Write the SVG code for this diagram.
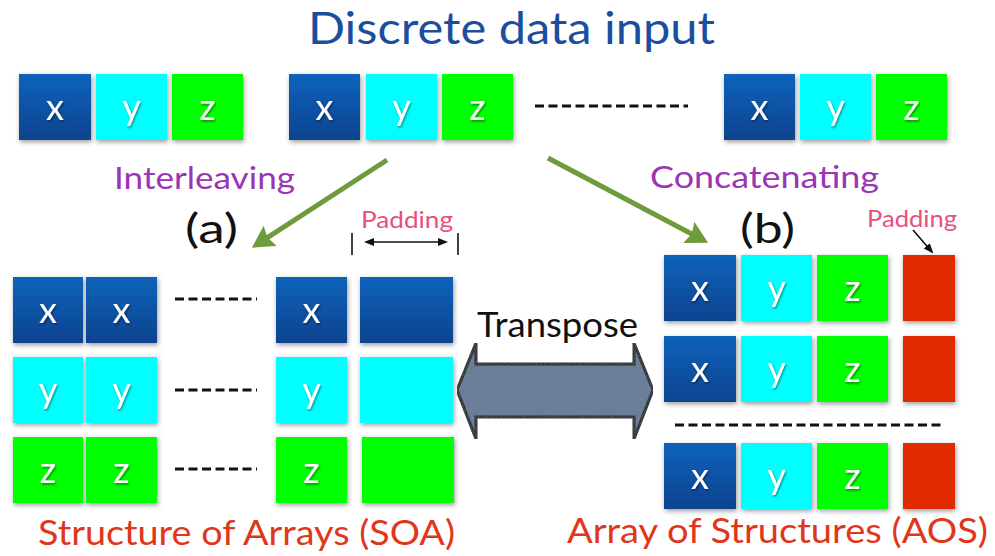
<svg xmlns="http://www.w3.org/2000/svg" width="995" height="556" viewBox="0 0 995 556">
  <defs>
    <linearGradient id="blueFill" x1="0" y1="0" x2="0" y2="1">
      <stop offset="0" stop-color="#0a63bb"/>
      <stop offset="1" stop-color="#0d438f"/>
    </linearGradient>
    <filter id="boxShadow" x="-20%" y="-20%" width="140%" height="140%">
      <feDropShadow dx="1" dy="2" stdDeviation="2.5" flood-color="#000" flood-opacity="0.4"/>
    </filter>
    <filter id="letterShadow" x="-30%" y="-30%" width="160%" height="160%">
      <feDropShadow dx="1" dy="1.5" stdDeviation="0.8" flood-color="#000" flood-opacity="0.45"/>
    </filter>
    <filter id="grain" x="0" y="0" width="100%" height="100%">
      <feTurbulence type="fractalNoise" baseFrequency="0.9" numOctaves="2" seed="3" result="noise"/>
      <feColorMatrix in="noise" type="matrix" values="0 0 0 0 0.5  0 0 0 0 0.55  0 0 0 0 0.62  0 0 0 0.18 0" result="tint"/>
      <feComposite in="tint" in2="SourceGraphic" operator="in" result="tex"/>
      <feMerge><feMergeNode in="SourceGraphic"/><feMergeNode in="tex"/></feMerge>
    </filter>
    <marker id="greenHead" markerUnits="userSpaceOnUse" markerWidth="24" markerHeight="24" viewBox="0 0 22 22" refX="6" refY="11" orient="auto">
      <path d="M0,0 L20,11 L0,22 L3,11 z" fill="#6e9b3b"/>
    </marker>
    <marker id="blackHead" markerUnits="userSpaceOnUse" markerWidth="10" markerHeight="10" viewBox="0 0 10 10" refX="8" refY="5" orient="auto-start-reverse">
      <path d="M0,1 L10,5 L0,9 z" fill="#111"/>
    </marker>
  </defs>
  <style>
    .blue { fill: url(#blueFill); filter: url(#boxShadow); }
    .cyan { fill: #00ffff; filter: url(#boxShadow); }
    .green { fill: #00ff00; filter: url(#boxShadow); }
    .red { fill: #e02a00; filter: url(#boxShadow); }
    .ltr { font-family: Lato, "Open Sans", sans-serif; font-size: 36px; fill: #ffffff; text-anchor: middle; filter: url(#letterShadow); }
    .title { font-family: Lato, "Open Sans", sans-serif; font-size: 44px; fill: #1c4ea0; }
    .op { font-family: Lato, "Open Sans", sans-serif; font-size: 30px; fill: #9a35b5; }
    .tag { font-family: Lato, "Open Sans", sans-serif; font-size: 40px; fill: #111; }
    .pad { font-family: Lato, "Open Sans", sans-serif; font-size: 24px; fill: #e84f7e; }
    .caption { font-family: Lato, "Open Sans", sans-serif; font-size: 35px; fill: #e0361a; }
    .xpose { font-family: Lato, "Open Sans", sans-serif; font-size: 35px; fill: #111; }
    .dots { stroke: #111; stroke-width: 3; stroke-dasharray: 9 4.5; fill: none; }
    .flow { stroke: #6e9b3b; stroke-width: 5; fill: none; marker-end: url(#greenHead); }
    .span { stroke: #111; stroke-width: 1.6; fill: none; }
  </style>

  <rect width="995" height="556" fill="#ffffff"/>

  <text class="title" x="308" y="44" textLength="407" lengthAdjust="spacingAndGlyphs">Discrete data input</text>

  <!-- input records: x y z triples -->
  <g id="input-1">
    <rect class="blue" x="19" y="74" width="72" height="66"/>
    <rect class="cyan" x="96" y="74" width="71" height="66"/>
    <rect class="green" x="172" y="74" width="71" height="66"/>
    <text class="ltr" x="55" y="120">x</text>
    <text class="ltr" x="131.5" y="120">y</text>
    <text class="ltr" x="207.5" y="120">z</text>
  </g>
  <g id="input-2">
    <rect class="blue" x="289" y="74" width="71" height="66"/>
    <rect class="cyan" x="366" y="74" width="71" height="66"/>
    <rect class="green" x="442" y="74" width="71" height="66"/>
    <text class="ltr" x="324.5" y="120">x</text>
    <text class="ltr" x="401.5" y="120">y</text>
    <text class="ltr" x="477.5" y="120">z</text>
  </g>
  <g id="input-n">
    <rect class="blue" x="724" y="74" width="71" height="66"/>
    <rect class="cyan" x="800" y="74" width="71" height="66"/>
    <rect class="green" x="876" y="74" width="71" height="66"/>
    <text class="ltr" x="759.5" y="120">x</text>
    <text class="ltr" x="835.5" y="120">y</text>
    <text class="ltr" x="911.5" y="120">z</text>
  </g>

  <!-- ellipsis rows -->
  <g id="ellipses">
    <line class="dots" x1="535" y1="106" x2="688" y2="106"/>
    <line class="dots" x1="175" y1="299" x2="257" y2="299"/>
    <line class="dots" x1="175" y1="390" x2="257" y2="390"/>
    <line class="dots" x1="175" y1="469" x2="257" y2="469"/>
    <line class="dots" x1="675" y1="425" x2="943" y2="425"/>
  </g>

  <g id="labels">
    <text class="op" x="114" y="189" textLength="181" lengthAdjust="spacingAndGlyphs">Interleaving</text>
    <text class="op" x="650" y="188" textLength="229" lengthAdjust="spacingAndGlyphs">Concatenating</text>
    <text class="tag" x="185" y="243" textLength="53" lengthAdjust="spacingAndGlyphs">(a)</text>
    <text class="tag" x="740" y="243" textLength="55" lengthAdjust="spacingAndGlyphs">(b)</text>
    <text class="pad" x="361" y="228" textLength="92" lengthAdjust="spacingAndGlyphs">Padding</text>
    <text class="pad" x="867" y="227" textLength="90" lengthAdjust="spacingAndGlyphs">Padding</text>
    <text class="xpose" x="477" y="337" textLength="161" lengthAdjust="spacingAndGlyphs">Transpose</text>
    <text class="caption" x="38" y="545" textLength="417" lengthAdjust="spacingAndGlyphs">Structure of Arrays (SOA)</text>
    <text class="caption" x="567" y="543" textLength="421" lengthAdjust="spacingAndGlyphs">Array of Structures (AOS)</text>
  </g>

  <!-- (a) structure of arrays -->
  <g id="soa">
    <g id="soa-x">
      <rect class="blue" x="13" y="277" width="70" height="66"/>
      <rect class="blue" x="86" y="277" width="71" height="66"/>
      <rect class="blue" x="276" y="277" width="71" height="66"/>
      <rect class="blue" x="360" y="277" width="93" height="66"/>
      <text class="ltr" x="48" y="323">x</text>
      <text class="ltr" x="121.5" y="323">x</text>
      <text class="ltr" x="311.5" y="323">x</text>
    </g>
    <g id="soa-y">
      <rect class="cyan" x="13" y="357" width="70" height="66"/>
      <rect class="cyan" x="86" y="357" width="71" height="66"/>
      <rect class="cyan" x="276" y="357" width="71" height="66"/>
      <rect class="cyan" x="360" y="357" width="93" height="66"/>
      <text class="ltr" x="48" y="403">y</text>
      <text class="ltr" x="121.5" y="403">y</text>
      <text class="ltr" x="311.5" y="403">y</text>
    </g>
    <g id="soa-z">
      <rect class="green" x="13" y="437" width="70" height="66"/>
      <rect class="green" x="86" y="437" width="71" height="66"/>
      <rect class="green" x="276" y="437" width="71" height="66"/>
      <rect class="green" x="362" y="437" width="92" height="66"/>
      <text class="ltr" x="48" y="483">z</text>
      <text class="ltr" x="121.5" y="483">z</text>
      <text class="ltr" x="311.5" y="483">z</text>
    </g>
  </g>

  <!-- (b) array of structures -->
  <g id="aos">
    <g id="aos-1">
      <rect class="blue" x="664" y="255" width="72" height="66"/>
      <rect class="cyan" x="741" y="255" width="71" height="66"/>
      <rect class="green" x="817" y="255" width="71" height="66"/>
      <rect class="red" x="903" y="255" width="52" height="66"/>
      <text class="ltr" x="700" y="301">x</text>
      <text class="ltr" x="776.5" y="301">y</text>
      <text class="ltr" x="852.5" y="301">z</text>
    </g>
    <g id="aos-2">
      <rect class="blue" x="664" y="336" width="72" height="66"/>
      <rect class="cyan" x="741" y="336" width="71" height="66"/>
      <rect class="green" x="817" y="336" width="71" height="66"/>
      <rect class="red" x="903" y="336" width="52" height="66"/>
      <text class="ltr" x="700" y="382">x</text>
      <text class="ltr" x="776.5" y="382">y</text>
      <text class="ltr" x="852.5" y="382">z</text>
    </g>
    <g id="aos-n">
      <rect class="blue" x="664" y="443" width="72" height="66"/>
      <rect class="cyan" x="741" y="443" width="71" height="66"/>
      <rect class="green" x="817" y="443" width="71" height="66"/>
      <rect class="red" x="903" y="443" width="52" height="66"/>
      <text class="ltr" x="700" y="489">x</text>
      <text class="ltr" x="776.5" y="489">y</text>
      <text class="ltr" x="852.5" y="489">z</text>
    </g>
  </g>

  <g id="connectors">
    <line class="flow" x1="387" y1="160" x2="264.7" y2="239.4"/>
    <line class="flow" x1="548" y1="158" x2="694.6" y2="235.5"/>
    <!-- padding width marker for (a) -->
    <line class="span" x1="352" y1="233" x2="352" y2="255"/>
    <line class="span" x1="458" y1="233" x2="458" y2="255"/>
    <line class="span" x1="366" y1="242" x2="446" y2="242" marker-start="url(#blackHead)" marker-end="url(#blackHead)"/>
    <!-- padding pointer for (b) -->
    <line class="span" x1="913" y1="230" x2="932" y2="252" marker-end="url(#blackHead)"/>
    <!-- transpose double arrow -->
    <path d="M457,390 L476,343 L476,364 L634,364 L634,343 L653,390 L634,439 L634,417 L476,417 L476,439 Z" fill="#5f7592" stroke="#000" stroke-width="3" stroke-linejoin="miter" filter="url(#grain)"/>
  </g>
</svg>
